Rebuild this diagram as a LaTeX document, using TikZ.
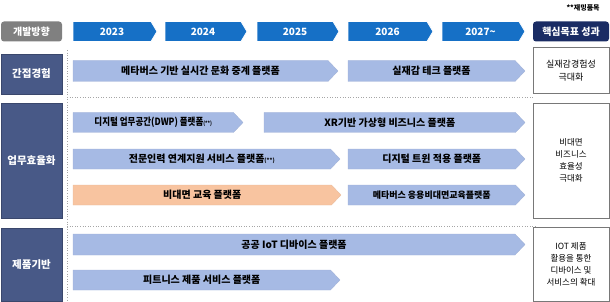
\documentclass[tikz,border=0pt]{standalone}
\usepackage{fontspec}
\setmainfont{Noto Sans CJK KR}
\usetikzlibrary{shapes.symbols,positioning}
\definecolor{yearblue}{RGB}{22,112,198}
\definecolor{barblue}{RGB}{166,186,228}
\definecolor{barorange}{RGB}{248,196,160}
\definecolor{catblue}{RGB}{72,89,135}
\definecolor{goalnavy}{RGB}{26,44,100}
\definecolor{headgray}{RGB}{128,128,128}
\definecolor{boxgray}{RGB}{120,120,120}

\begin{document}
\begin{tikzpicture}[x=1pt, y=-1pt, every node/.style={font=\bfseries\fontsize{10}{11}\selectfont, outer sep=0pt}]
\tikzset{
    headbox/.style={rounded corners=3pt, text=white, minimum height=20pt, inner sep=0pt, font=\bfseries\fontsize{10}{11}\selectfont},
    yearbox/.style={signal, signal to=east, signal pointer angle=118, fill=yearblue, draw=white, line width=0.8pt,
        text=white, minimum height=20pt, inner sep=0pt, anchor=west, font=\bfseries\fontsize{10}{11}\selectfont},
    catbox/.style={fill=catblue, draw=catblue!80!black, line width=0.4pt, text=white, minimum width=61pt, inner sep=0pt,
        font=\bfseries\fontsize{10.5}{11}\selectfont},
    platbar/.style={signal, signal to=east, signal pointer angle=93, fill=barblue, draw=barblue!85!gray, line width=0.3pt,
        minimum height=21pt, inner sep=0pt, anchor=west},
    eduebar/.style={platbar, fill=barorange, draw=barorange!85!gray},
    goalbox/.style={draw=boxgray, line width=0.8pt, fill=white, minimum width=76pt, inner sep=0pt, align=center,
        font=\fontsize{9}{12.5}\selectfont},
    sepline/.style={gray!70, dotted, line width=0.6pt}
}
\newcommand{\starmark}{{\fontsize{5.5}{6}\selectfont(**)}}
\useasboundingbox (0,0) rectangle (610,302);

% header row
\node[anchor=east, font=\bfseries\fontsize{7}{8}\selectfont] (note) at (603,8) {**재밍품목};
\node[headbox, fill=headgray, minimum width=61pt] (dir) at (31.5,31.5) {개발방향};
\node[yearbox, minimum width=84pt] (y23) at (73,31.5) {2023};
\node[yearbox, minimum width=82pt] (y24) at (165,31.5) {2024};
\node[yearbox, minimum width=82pt] (y25) at (257,31.5) {2025};
\node[yearbox, minimum width=85pt] (y26) at (348,31.5) {2026};
\node[yearbox, minimum width=83pt] (y27) at (442,31.5) {2027\textasciitilde};
\node[headbox, fill=goalnavy, minimum width=76pt] (goal) at (571,31.5) {핵심목표 성과};

% separators
\draw[sepline] (67,50) -- (67,302);
\draw[sepline] (67,97.5) -- (533,97.5);
\draw[sepline] (67,226) -- (537,226);

% categories
\node[catbox, minimum height=40pt] (cat1) at (31.5,74) {간접경험};
\node[catbox, minimum height=115pt] (cat2) at (31.5,160.5) {업무효율화};
\node[catbox, minimum height=73pt] (cat3) at (31.5,264.5) {제품기반};

% platforms
\node[platbar, minimum width=265pt] (p11) at (73,71) {메타버스 기반 실시간 문화 중계 플랫폼};
\node[platbar, minimum width=177pt] (p12) at (348,71) {실재감 테크 플랫폼};
\node[platbar, minimum width=170pt, minimum height=20pt] (p21) at (73,122.5) {\scalebox{0.85}[1]{디지털 업무공간(DWP) 플랫폼\starmark}};
\node[platbar, minimum width=261pt, minimum height=20pt] (p22) at (264,122.5) {XR기반 가상형 비즈니스 플랫폼};
\node[platbar, minimum width=267pt, minimum height=20pt] (p31) at (73,159) {전문인력 연계지원 서비스 플랫폼\starmark};
\node[platbar, minimum width=177pt, minimum height=20pt] (p32) at (348,159) {디지털 트윈 적용 플랫폼};
\node[eduebar, minimum width=268pt, minimum height=20pt] (p41) at (73,195) {비대면 교육 플랫폼};
\node[platbar, minimum width=177pt, minimum height=20pt, font=\bfseries\fontsize{9}{10}\selectfont] (p42) at (348,195) {메타버스 응용비대면교육플랫폼};
\node[platbar, minimum width=452pt] (p51) at (73,244.5) {공공 IoT 디바이스 플랫폼};
\node[platbar, minimum width=267pt, minimum height=20pt] (p61) at (73,280) {피트니스 제품 서비스 플랫폼};

% goals
\node[goalbox, minimum height=46pt] (g1) at (571,70.5) {실재감경험성\\극대화};
\node[goalbox, minimum height=115pt, font=\fontsize{8.5}{12.2}\selectfont] (g2) at (571,160.5) {비대면\\비즈니스\\효율성\\극대화};
\node[goalbox, minimum height=74pt, font=\fontsize{8.5}{12}\selectfont] (g3) at (571,264.5) {IOT 제품\\활용을 통한\\디바이스 및\\서비스의 확대};

\end{tikzpicture}
\end{document}
